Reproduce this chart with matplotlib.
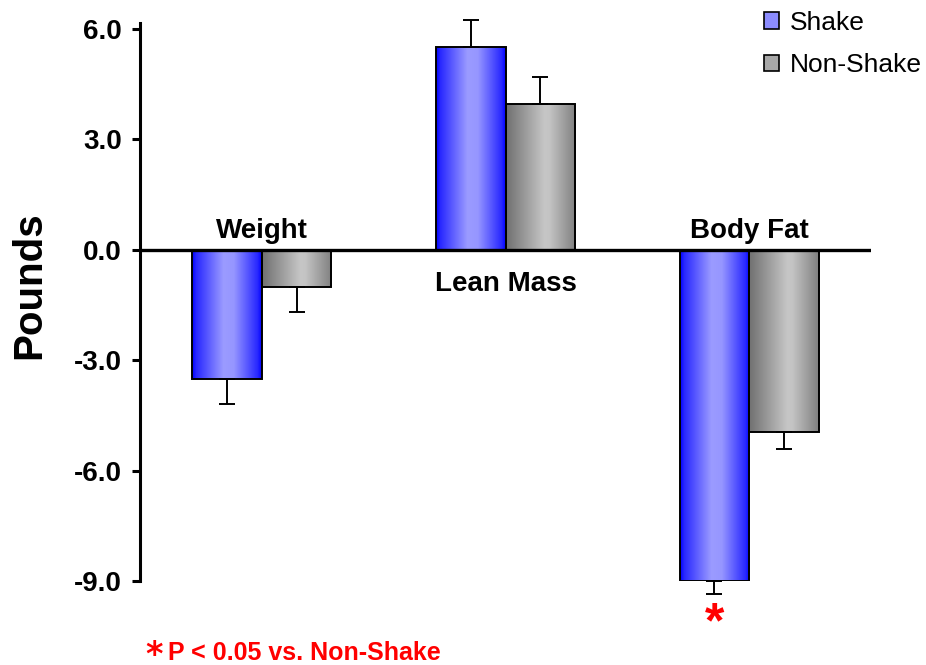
import numpy as np
import matplotlib
matplotlib.use("Agg")
from matplotlib import pyplot as plt
from matplotlib.patches import Patch

plt.rcParams['font.family'] = ['Liberation Sans', 'DejaVu Sans']

# data
categories = ['Weight', 'Lean Mass', 'Body Fat']
shake = [-3.5, 5.5, -9.0]
shake_err = [0.7, 0.75, 0.35]
non_shake = [-1.0, 3.95, -4.95]
non_shake_err = [0.7, 0.75, 0.45]
yticks = [-9.0, -6.0, -3.0, 0.0, 3.0, 6.0]
significant = [False, False, True]

"""
Gradient-Balken
"""
def gradient_rgb(stops_t, stops_c, n=200):
    t = np.linspace(0, 1, n)
    c = np.array(stops_c, dtype=float) / 255.0
    rgb = np.stack([np.interp(t, stops_t, c[:, k]) for k in range(3)], axis=-1)
    return rgb[np.newaxis, :, :]

blue_grad = gradient_rgb([0, 0.06, 0.45, 0.6, 0.94, 1],
                         [(0, 0, 255), (40, 40, 255), (155, 155, 255), (150, 150, 255), (40, 40, 255), (0, 0, 255)])
grey_grad = gradient_rgb([0, 0.55, 0.62, 1],
                         [(112, 112, 112), (198, 198, 198), (196, 196, 196), (128, 128, 128)])


def gradient_bars(ax, x, heights, width, grad):
    bars = ax.bar(x, heights, width=width, align='edge', facecolor='none',
                  edgecolor='black', linewidth=1.4, zorder=3)
    for b in bars:
        x0, y0 = b.get_x(), b.get_y()
        w, h = b.get_width(), b.get_height()
        im = ax.imshow(grad, extent=[x0, x0 + w, min(y0, y0 + h), max(y0, y0 + h)],
                       aspect='auto', interpolation='bilinear', zorder=2)
        im.set_clip_path(b)
    return bars


def one_sided_err(vals, errs):
    lower = [e if v < 0 else 0 for v, e in zip(vals, errs)]
    upper = [e if v >= 0 else 0 for v, e in zip(vals, errs)]
    return [lower, upper]


fig = plt.figure(figsize=(9.26, 6.65), dpi=100)
ax = fig.add_axes([0.1512, 0.1263, 0.7894, 0.8396])

x = np.arange(len(categories))
w = 0.285

gradient_bars(ax, x - w, shake, w, blue_grad)
gradient_bars(ax, x, non_shake, w, grey_grad)

for xs, vals, errs in [(x - w / 2, shake, shake_err), (x + w / 2, non_shake, non_shake_err)]:
    eb = ax.errorbar(xs, vals, yerr=one_sided_err(vals, errs), fmt='none',
                     ecolor='black', elinewidth=1.4, capsize=5.5, capthick=1.4, zorder=3.5)
    for art in eb.lines[1] + eb.lines[2]:
        art.set_clip_on(False)

ax.axhline(0, color='black', linewidth=2.4, zorder=4)

# Kategorie-Beschriftungen
for i, cat in enumerate(categories):
    if max(shake[i], non_shake[i]) > 0:
        ax.text(x[i], -1.12, cat, ha='center', va='baseline', fontsize=20, fontweight='bold')
    else:
        ax.text(x[i], 0.33, cat, ha='center', va='baseline', fontsize=20, fontweight='bold')

# Signifikanz-Stern
for i, sig in enumerate(significant):
    if sig:
        ax.text(x[i] - w / 2, shake[i] - shake_err[i] - 0.2, '*', ha='center', va='top',
                fontsize=36, fontweight='bold', color='red')

ax.set_xlim(-0.5, 2.5)
ax.set_ylim(-9.0, 6.17)
ax.set_yticks(yticks)
ax.set_yticklabels(['%.1f' % v for v in yticks], fontsize=20, fontweight='bold')
ax.set_xticks([])
ax.tick_params(axis='y', direction='out', length=6, width=2.2, pad=7)
for s in ['top', 'right', 'bottom']:
    ax.spines[s].set_visible(False)
ax.spines['left'].set_linewidth(2.2)
ax.set_ylabel('Pounds', fontsize=29, fontweight='bold')
ax.yaxis.set_label_coords(-0.126, 0.53)

handles = [Patch(facecolor=(0.55, 0.55, 1.0), edgecolor='black', linewidth=1.2, label='Shake'),
           Patch(facecolor=(0.66, 0.66, 0.66), edgecolor='black', linewidth=1.2, label='Non-Shake')]
fig.legend(handles=handles, loc='upper left', bbox_to_anchor=(764 / 926, 1 - 11 / 665),
           frameon=False, fontsize=19, handlelength=0.58, handleheight=0.58,
           handletextpad=0.4, labelspacing=0.7, borderpad=0, borderaxespad=0)

fig.text(145 / 926, 1 - 656 / 665, '\u204e', color='red', fontsize=24, fontweight='bold',
         va='baseline', family=['DejaVu Sans'])
fig.text(168 / 926, 1 - 660 / 665, 'P < 0.05 vs. Non-Shake', color='red', fontsize=18,
         fontweight='bold', va='baseline')

fig.savefig('out.png', dpi=100)
